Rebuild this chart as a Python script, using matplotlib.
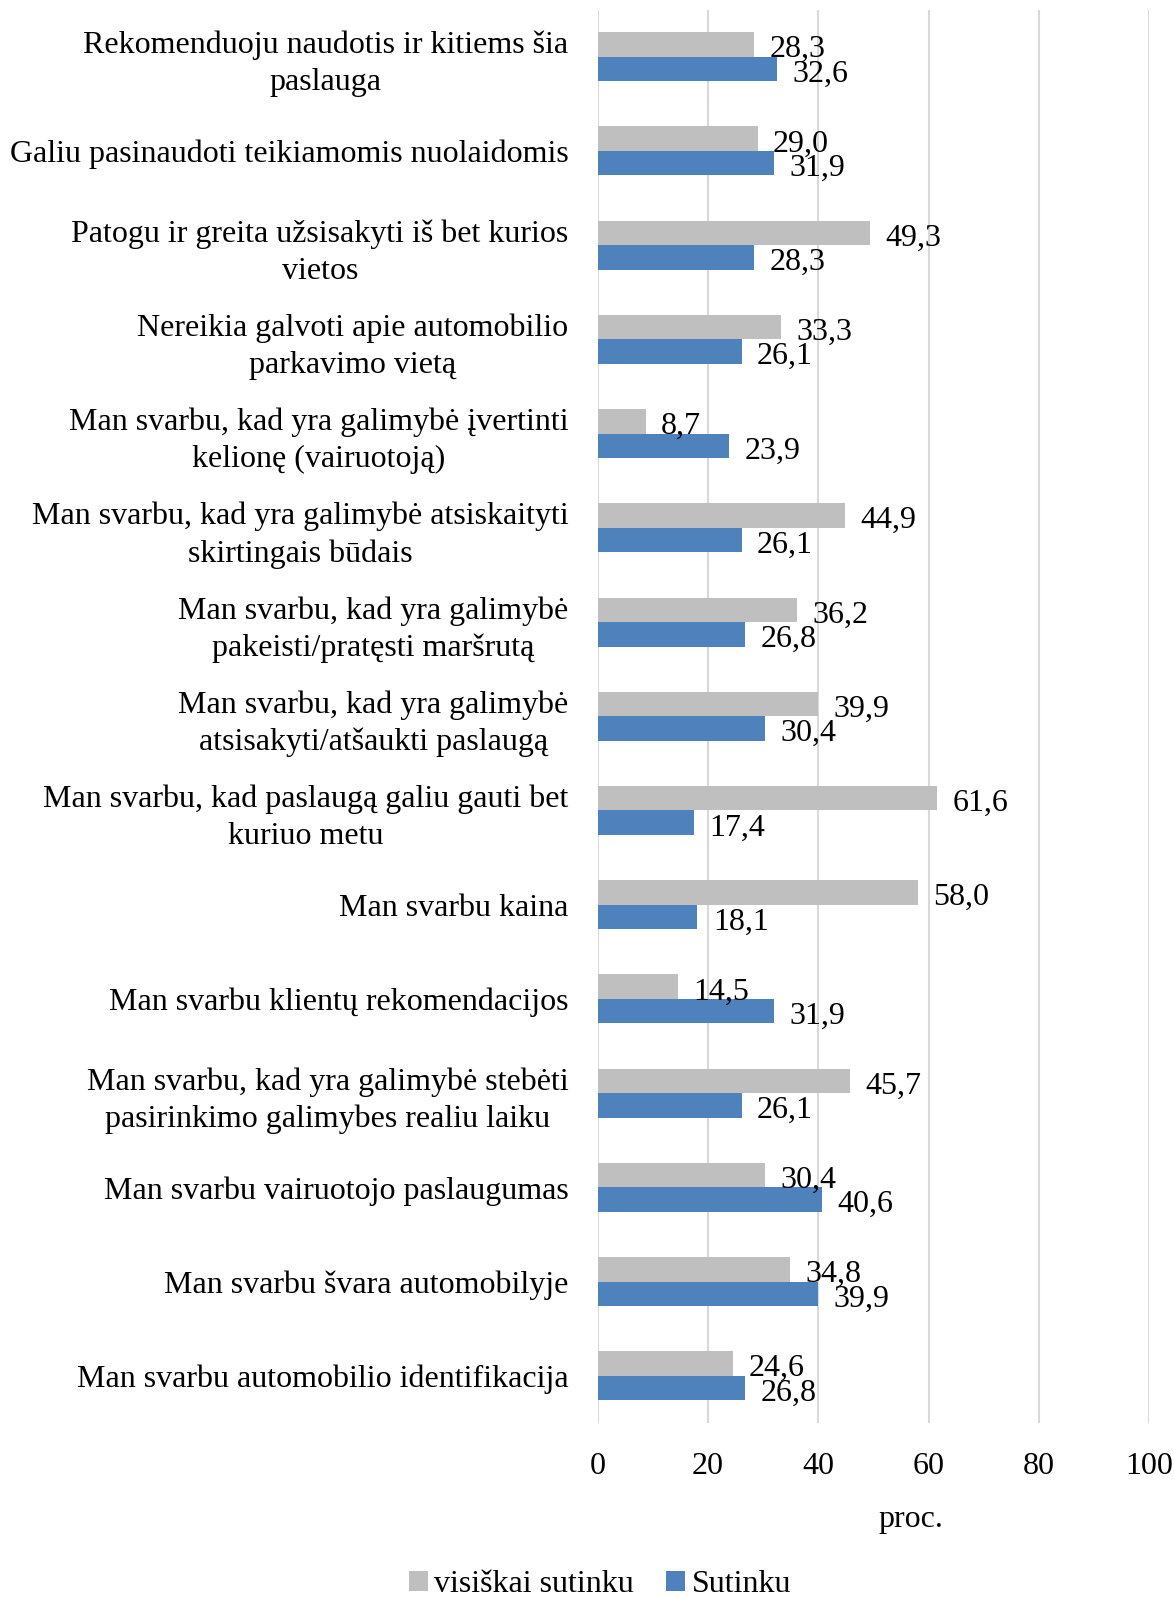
import numpy as np
import matplotlib
matplotlib.use("Agg")
import matplotlib.pyplot as plt

plt.rcParams['font.family'] = ['Liberation Serif', 'DejaVu Serif']

categories = [
	"Rekomenduoju naudotis ir kitiems šia\npaslauga",
	"Galiu pasinaudoti teikiamomis nuolaidomis",
	"Patogu ir greita užsisakyti iš bet kurios\nvietos",
	"Nereikia galvoti apie automobilio\nparkavimo vietą",
	"Man svarbu, kad yra galimybė įvertinti\nkelionę (vairuotoją)",
	"Man svarbu, kad yra galimybė atsiskaityti\nskirtingais būdais",
	"Man svarbu, kad yra galimybė\npakeisti/pratęsti maršrutą",
	"Man svarbu, kad yra galimybė\natsisakyti/atšaukti paslaugą",
	"Man svarbu, kad paslaugą galiu gauti bet\nkuriuo metu",
	"Man svarbu kaina",
	"Man svarbu klientų rekomendacijos",
	"Man svarbu, kad yra galimybė stebėti\npasirinkimo galimybes realiu laiku",
	"Man svarbu vairuotojo paslaugumas",
	"Man svarbu švara automobilyje",
	"Man svarbu automobilio identifikacija",
]
visiskai = [28.3, 29.0, 49.3, 33.3, 8.7, 44.9, 36.2, 39.9, 61.6, 58.0, 14.5, 45.7, 30.4, 34.8, 24.6]
sutinku = [32.6, 31.9, 28.3, 26.1, 23.9, 26.1, 26.8, 30.4, 17.4, 18.1, 31.9, 26.1, 40.6, 39.9, 26.8]
series_names = ["visiškai sutinku", "Sutinku"]
xticks = [0, 20, 40, 60, 80, 100]

fs = 23
fig = plt.figure(figsize=(11.74, 15.97), dpi=100)
ax = fig.add_axes([0.509, 0.109, 0.470, 0.885])

y = np.arange(len(categories))
h = 0.26
b1 = ax.barh(y - h / 2, visiskai, height=h, color='#BFBFBF', label=series_names[0], zorder=2)
b2 = ax.barh(y + h / 2, sutinku, height=h, color='#4F81BD', label=series_names[1], zorder=2)

# value labels, decimal comma
for bars in (b1, b2):
	for r in bars:
		v = r.get_width()
		ax.text(v + 2.8, r.get_y() + r.get_height() / 2 + 0.055, ("%.1f" % v).replace('.', ','),
				va='center', ha='left', fontsize=fs)

ax.set_ylim(len(categories) - 0.5, -0.5)
ax.set_xlim(0, 100)
ax.set_xticks(xticks)
ax.set_yticks(y)
ax.set_yticklabels(categories, fontsize=fs, multialignment='center', linespacing=1.35)
ax.tick_params(axis='y', length=0, pad=21)
ax.tick_params(axis='x', length=0, pad=21, labelsize=fs)
ax.grid(axis='x', color='#D9D9D9', linewidth=1.5, zorder=0)
for s in ax.spines.values():
	s.set_visible(False)

fig.text(911 / 1174, 1 - 1520 / 1597, "proc.", fontsize=fs, ha='center', va='center')

ax.legend(loc='center', bbox_to_anchor=(600 / 1174, 1 - 1585 / 1597), bbox_transform=fig.transFigure,
		  ncol=2, frameon=False, fontsize=fs, handlelength=0.6, handleheight=0.6,
		  handletextpad=0.2, columnspacing=1.0)

fig.savefig("out.png", dpi=100)
